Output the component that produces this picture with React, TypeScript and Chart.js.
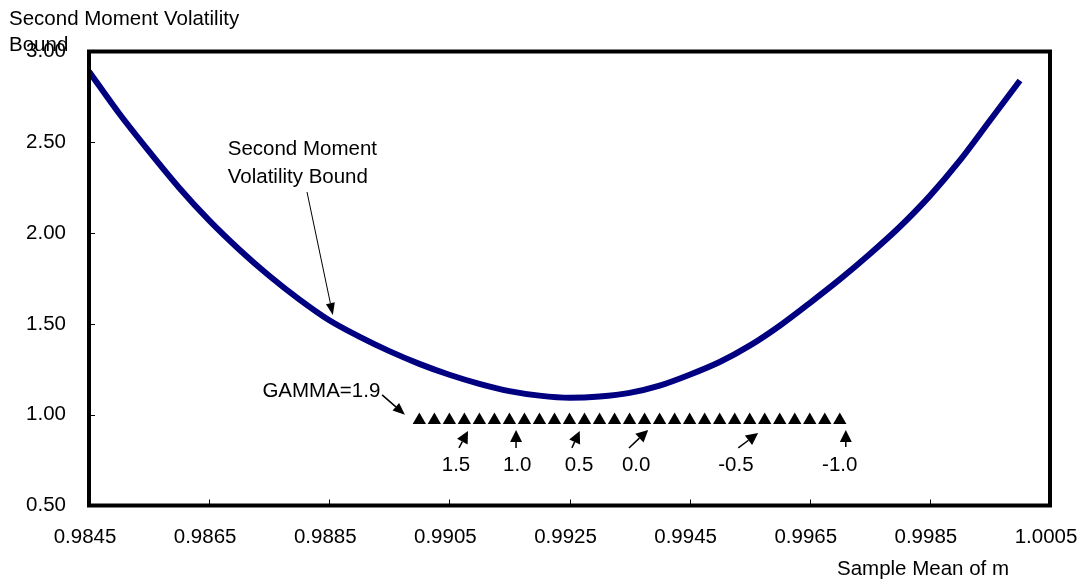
import React, { useEffect, useRef } from "react";
import { Chart, registerables } from "chart.js";
Chart.register(...registerables);

// Second moment volatility bound curve
const meanM = [0.9845, 0.985, 0.9855, 0.986, 0.9865, 0.987, 0.9875, 0.988, 0.9885, 0.989, 0.9895, 0.99, 0.9905, 0.991, 0.9915, 0.992, 0.9925, 0.993, 0.9935, 0.994, 0.9945, 0.995, 0.9955, 0.996, 0.9965, 0.997, 0.9975, 0.998, 0.9985, 0.999, 0.9995, 1.0];
const boundValues = [2.89, 2.66, 2.45, 2.25, 2.07, 1.91, 1.765, 1.635, 1.52, 1.43, 1.35, 1.28, 1.22, 1.17, 1.13, 1.105, 1.093, 1.1, 1.12, 1.16, 1.22, 1.29, 1.38, 1.49, 1.615, 1.745, 1.885, 2.035, 2.205, 2.4, 2.62, 2.84];

// Model points for GAMMA from 1.9 downwards
const gammaMeanM = [0.99, 0.99025, 0.9905, 0.99075, 0.991, 0.99125, 0.9915, 0.99175, 0.992, 0.99225, 0.9925, 0.99275, 0.993, 0.99325, 0.9935, 0.99375, 0.994, 0.99425, 0.9945, 0.99475, 0.995, 0.99525, 0.9955, 0.99575, 0.996, 0.99625, 0.9965, 0.99675, 0.997];
const gammaVol = [0.97, 0.97, 0.97, 0.97, 0.97, 0.97, 0.97, 0.97, 0.97, 0.97, 0.97, 0.97, 0.97, 0.97, 0.97, 0.97, 0.97, 0.97, 0.97, 0.97, 0.97, 0.97, 0.97, 0.97, 0.97, 0.97, 0.97, 0.97, 0.97];

// Axis ticks
const xTickValues = [0.9845, 0.9865, 0.9885, 0.9905, 0.9925, 0.9945, 0.9965, 0.9985, 1.0005];
const yTickValues = [0.5, 1.0, 1.5, 2.0, 2.5, 3.0];

// Annotation labels (data coordinates)
const gammaLabels = ["1.5", "1.0", "0.5", "0.0", "-0.5", "-1.0"];
const gammaLabelX = [0.99061, 0.99163, 0.99266, 0.99361, 0.99527, 0.997];
const gammaLabelY = 0.723;
const gammaArrowTailX = [0.99066, 0.99161, 0.99254, 0.99349, 0.99531, 0.9971];
const gammaArrowTailY = [0.817, 0.817, 0.817, 0.817, 0.817, 0.822];
const gammaArrowTipX = [0.99081, 0.99161, 0.99267, 0.99381, 0.99564, 0.9971];
const gammaArrowTipY = [0.91, 0.916, 0.91, 0.916, 0.899, 0.916];

const gammaStartText = "GAMMA=1.9";
const gammaStartPos = [0.98935, 1.13];
const gammaStartArrow = [0.98938, 1.109, 0.98976, 1.0];

const boundLabelLines = ["Second Moment", "Volatility Bound"];
const boundLabelPos = [0.98681, 2.463, 2.309];
const boundArrow = [0.98813, 2.226, 0.98856, 1.549];

const yTitleLines = ["Second Moment Volatility", "Bound"];
const xTitle = "Sample Mean of m";

const FONT = '20.5px "Liberation Sans", Arial, sans-serif';

function drawArrow(ctx: CanvasRenderingContext2D, x1: number, y1: number, x2: number, y2: number, len: number, wid: number, lw: number) {
  const ang = Math.atan2(y2 - y1, x2 - x1);
  const bx = x2 - Math.cos(ang) * len;
  const by = y2 - Math.sin(ang) * len;
  ctx.save();
  ctx.strokeStyle = "#000";
  ctx.fillStyle = "#000";
  ctx.lineWidth = lw;
  ctx.beginPath();
  ctx.moveTo(x1, y1);
  ctx.lineTo(bx, by);
  ctx.stroke();
  ctx.beginPath();
  ctx.moveTo(x2, y2);
  ctx.lineTo(bx + Math.sin(ang) * wid / 2, by - Math.cos(ang) * wid / 2);
  ctx.lineTo(bx - Math.sin(ang) * wid / 2, by + Math.cos(ang) * wid / 2);
  ctx.closePath();
  ctx.fill();
  ctx.restore();
}

const decorPlugin = {
  id: "decor",
  afterDraw(chart: any) {
    const ctx: CanvasRenderingContext2D = chart.ctx;
    const { left, right, top, bottom } = chart.chartArea;
    const xs = chart.scales.x;
    const ys = chart.scales.y;
    ctx.save();
    // inside tick marks
    ctx.strokeStyle = "#000";
    ctx.lineWidth = 1;
    ctx.beginPath();
    xTickValues.forEach((v) => {
      const px = Math.round(xs.getPixelForValue(v)) + 0.5;
      ctx.moveTo(px, bottom);
      ctx.lineTo(px, bottom - 6);
    });
    yTickValues.forEach((v) => {
      const py = Math.round(ys.getPixelForValue(v)) + 0.5;
      ctx.moveTo(left, py);
      ctx.lineTo(left + 6, py);
    });
    ctx.stroke();
    // border
    ctx.lineWidth = 4;
    ctx.strokeStyle = "#000";
    ctx.strokeRect(left, top, right - left, bottom - top);

    ctx.fillStyle = "#000";
    ctx.font = FONT;
    ctx.textBaseline = "middle";
    // titles
    ctx.textAlign = "left";
    ctx.fillText(yTitleLines[0], 1, 11);
    ctx.fillText(yTitleLines[1], 1, 37);
    ctx.fillText(xTitle, 829, 561);

    // bound label
    ctx.fillText(boundLabelLines[0], xs.getPixelForValue(boundLabelPos[0]), ys.getPixelForValue(boundLabelPos[1]));
    ctx.fillText(boundLabelLines[1], xs.getPixelForValue(boundLabelPos[0]), ys.getPixelForValue(boundLabelPos[2]));
    drawArrow(ctx, xs.getPixelForValue(boundArrow[0]), ys.getPixelForValue(boundArrow[1]), xs.getPixelForValue(boundArrow[2]), ys.getPixelForValue(boundArrow[3]), 12, 9, 1);

    // gamma start label
    ctx.textAlign = "right";
    ctx.fillText(gammaStartText, xs.getPixelForValue(gammaStartPos[0]), ys.getPixelForValue(gammaStartPos[1]));
    drawArrow(ctx, xs.getPixelForValue(gammaStartArrow[0]), ys.getPixelForValue(gammaStartArrow[1]), xs.getPixelForValue(gammaStartArrow[2]), ys.getPixelForValue(gammaStartArrow[3]), 12, 10, 1.5);

    // gamma labels
    ctx.textAlign = "center";
    gammaLabels.forEach((t, i) => {
      ctx.fillText(t, xs.getPixelForValue(gammaLabelX[i]), ys.getPixelForValue(gammaLabelY));
      drawArrow(ctx, xs.getPixelForValue(gammaArrowTailX[i]), ys.getPixelForValue(gammaArrowTailY[i]), xs.getPixelForValue(gammaArrowTipX[i]), ys.getPixelForValue(gammaArrowTipY[i]), 12, 12, 1.5);
    });
    ctx.restore();
  },
};

export default function App() {
  const ref = useRef<HTMLCanvasElement | null>(null);
  useEffect(() => {
    if (!ref.current) return;
    const chart = new Chart(ref.current, {
      type: "line",
      data: {
        datasets: [
          {
            label: "Second Moment Volatility Bound",
            data: meanM.map((x, i) => ({ x, y: boundValues[i] })),
            borderColor: "#000080",
            borderWidth: 6,
            pointRadius: 0,
            fill: false,
            cubicInterpolationMode: "monotone",
          },
          {
            label: "GAMMA",
            data: gammaMeanM.map((x, i) => ({ x, y: gammaVol[i] })),
            showLine: false,
            pointStyle: "triangle",
            pointRadius: 7.7,
            backgroundColor: "#000",
            borderColor: "#000",
            borderWidth: 0,
          },
        ],
      },
      options: {
        animation: false,
        responsive: false,
        devicePixelRatio: 1,
        layout: { padding: { left: 0, top: 43.5, right: 29, bottom: 0 } },
        plugins: { legend: { display: false }, tooltip: { enabled: false }, title: { display: false } },
        scales: {
          x: {
            type: "linear",
            min: 0.9845,
            max: 1.0005,
            grid: { display: false, drawTicks: false },
            border: { display: false },
            afterBuildTicks: (s: any) => {
              s.ticks = xTickValues.map((v) => ({ value: v }));
            },
            afterFit: (s: any) => {
              s.height = 73.5;
              s.paddingLeft = 0;
              s.paddingRight = 0;
            },
            ticks: {
              padding: 20,
              labelOffset: -4,
              color: "#000",
              font: { family: '"Liberation Sans", Arial, sans-serif', size: 20.5 },
              maxRotation: 0,
              autoSkip: false,
              callback: (v: any) => Number(v).toFixed(4),
            },
          },
          y: {
            type: "linear",
            min: 0.5,
            max: 3.0,
            grid: { display: false, drawTicks: false },
            border: { display: false },
            afterBuildTicks: (s: any) => {
              s.ticks = yTickValues.map((v) => ({ value: v }));
            },
            afterFit: (s: any) => {
              s.width = 81;
              s.paddingTop = 0;
              s.paddingBottom = 0;
            },
            ticks: {
              padding: 23,
              color: "#000",
              font: { family: '"Liberation Sans", Arial, sans-serif', size: 20.5 },
              callback: (v: any) => Number(v).toFixed(2),
            },
          },
        },
      },
      plugins: [decorPlugin],
    });
    return () => chart.destroy();
  }, []);
  return (
    <div style={{ width: 1071, height: 571 }}>
      <canvas ref={ref} width={1071} height={571} style={{ width: 1071, height: 571, display: "block" }} />
    </div>
  );
}
